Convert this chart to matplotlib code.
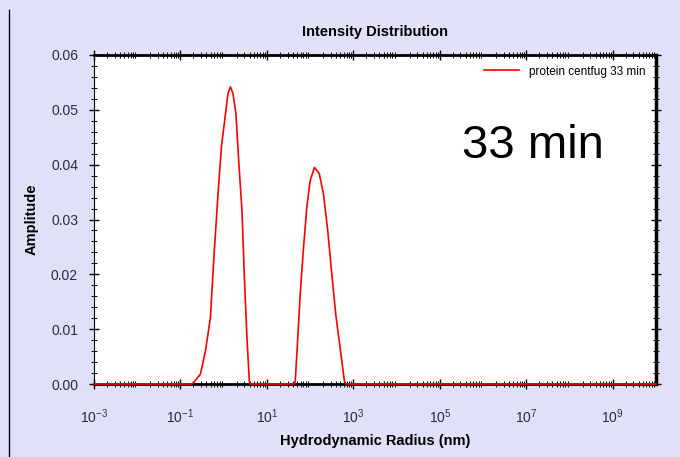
import matplotlib.pyplot as plt
from matplotlib.ticker import LogLocator, FixedLocator, MultipleLocator, NullFormatter

# radius (nm) and amplitude
radius = [1e-3, 0.18, 0.203, 0.290, 0.378, 0.493, 0.587, 0.740, 0.885, 1.055,
          1.257, 1.43, 1.64, 1.92, 2.22, 2.65, 3.01, 3.45, 3.92, 4.1,
          43.0, 45.2, 49.2, 58.9, 70.3, 83.8, 100.2, 126, 162, 203, 255,
          316, 391, 493, 621, 680, 1e10]
amplitude = [0, 0, 0.0003, 0.0018, 0.0060, 0.0121, 0.0225, 0.0347, 0.0432, 0.0481,
             0.0530, 0.0542, 0.0530, 0.0493, 0.0408, 0.0316, 0.0194, 0.0085, 0.0005, 0,
             0, 0.0005, 0.0054, 0.0164, 0.0249, 0.0323, 0.0371, 0.0395, 0.0384, 0.0347, 0.0280,
             0.0201, 0.0127, 0.0066, 0.0005, 0, 0]

series_label = "protein centfug 33 min"
x_ticks = [1e-3, 1e-1, 1e1, 1e3, 1e5, 1e7, 1e9]
x_ticklabels = ["$10^{-3}$", "$10^{-1}$", "$10^{1}$", "$10^{3}$", "$10^{5}$", "$10^{7}$", "$10^{9}$"]

plt.rcParams['font.family'] = ['Liberation Sans', 'DejaVu Sans']
plt.rcParams['mathtext.fontset'] = 'custom'
plt.rcParams['mathtext.rm'] = 'Liberation Sans'

fig = plt.figure(figsize=(6.8, 4.57), dpi=100, facecolor='#e0e0f8')
ax = fig.add_axes([94 / 680, 1 - 384 / 457, 562 / 680, 329 / 457])
ax.set_facecolor('white')

ax.plot(radius, amplitude, color='red', lw=1.2, label=series_label, zorder=3, clip_on=False)
ax.set_xscale('log')
ax.set_xlim(1e-3, 1e10)
ax.set_ylim(0, 0.06)

ax.xaxis.set_major_locator(FixedLocator(x_ticks))
ax.set_xticklabels(x_ticklabels)
ax.xaxis.set_minor_locator(LogLocator(base=10, subs=range(2, 10), numticks=100))
ax.xaxis.set_minor_formatter(NullFormatter())
ax.yaxis.set_major_locator(MultipleLocator(0.01))
ax.yaxis.set_major_formatter(plt.FormatStrFormatter('%.2f'))
ax.yaxis.set_minor_locator(MultipleLocator(0.002))

ax.tick_params(which='major', direction='inout', length=7, width=1, top=True, right=True,
               labelsize=10, colors='black', labelcolor='#2a2a44')
ax.tick_params(axis='x', which='major', pad=13)
ax.tick_params(axis='y', which='major', pad=8)
ax.tick_params(which='minor', direction='inout', length=5, width=0.7, top=True, right=True)
for s in ['top', 'bottom']:
    ax.spines[s].set_linewidth(2)
ax.spines['right'].set_linewidth(2.5)
ax.spines['left'].set_linewidth(0.8)

ax.set_title("Intensity Distribution", fontsize=10.5, fontweight='bold', pad=14)
ax.set_xlabel("Hydrodynamic Radius (nm)", fontsize=10.5, fontweight='bold', labelpad=6)
ax.set_ylabel("Amplitude", fontsize=10.5, fontweight='bold', labelpad=9)

ax.legend(loc='upper right', frameon=False, fontsize=8.5, handlelength=3.0,
          handletextpad=0.8, borderaxespad=0.5)
ax.text(0.781, 0.722, "33 min", transform=ax.transAxes, fontsize=34,
        ha='center', va='center', color='black')

fig.add_artist(plt.Line2D([9 / 680, 9 / 680], [0, 1 - 10 / 457], color='black', lw=1,
                          transform=fig.transFigure))

fig.savefig('out.png', dpi=100, facecolor=fig.get_facecolor())
